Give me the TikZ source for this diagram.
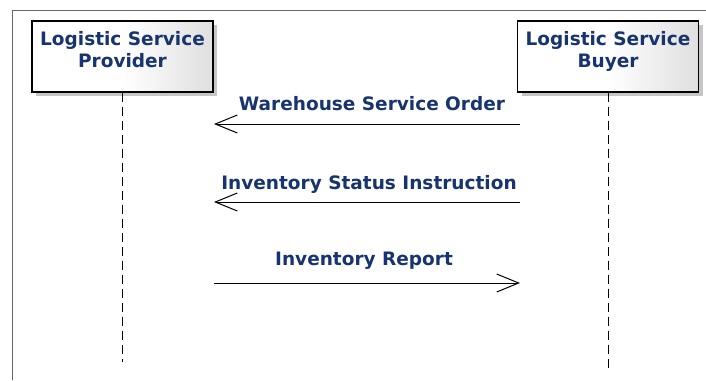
\documentclass[tikz,border=0pt]{standalone}
\usepackage{fontspec}
\setmainfont{DejaVu Sans}
\usetikzlibrary{arrows.meta,shadows}
\definecolor{msgblue}{HTML}{17346E}
\tikzset{
  actor/.style={draw=black, line width=1.3pt, minimum width=181pt, minimum height=71pt,
    left color=white, right color=gray!25, middle color=white,
    drop shadow={shadow xshift=4pt, shadow yshift=-4pt, fill=gray!45, opacity=1},
    align=center, text=msgblue, font=\bfseries\fontsize{18.5}{22}\selectfont},
  lifeline/.style={line width=1pt, dash pattern=on 9pt off 5pt},
  msg/.style={line width=1pt, -{Straight Barb[length=22pt,width=18pt,line width=1pt]}},
  msglabel/.style={text=msgblue, font=\bfseries\fontsize{18.5}{22}\selectfont}
}
\begin{document}
\begin{tikzpicture}[x=1pt, y=-1pt]
  \useasboundingbox (0,0) rectangle (706,380);
  \draw[gray!80!black, line width=0.8pt] (12,380)--(12,10)--(706,10);
  % actors
  \node[actor] (provider) at (122.5,56.5) {Logistic Service\\Provider\\[-8pt]};
  \node[actor] (buyer) at (608,56.5) {Logistic Service\\Buyer\\[-8pt]};
  \coordinate (provEnd) at (122.5,362);
  \coordinate (buyEnd) at (608,371);
  \draw[lifeline] (provider.south)--(provEnd);
  \draw[lifeline] (buyer.south)--(buyEnd);
  % messages
  \coordinate (m1a) at (520,124); \coordinate (m1b) at (214,124);
  \coordinate (m2a) at (520,202); \coordinate (m2b) at (214,202);
  \coordinate (m3a) at (214,283); \coordinate (m3b) at (520,283);
  \draw[msg] (m1a)--(m1b);
  \draw[msg] (m2a)--(m2b);
  \draw[msg] (m3a)--(m3b);
  \node[msglabel] (l1) at (372,104) {Warehouse Service Order};
  \node[msglabel] (l2) at (369,184) {Inventory Status Instruction};
  \node[msglabel] (l3) at (364,261) {Inventory Report};
\end{tikzpicture}
\end{document}
